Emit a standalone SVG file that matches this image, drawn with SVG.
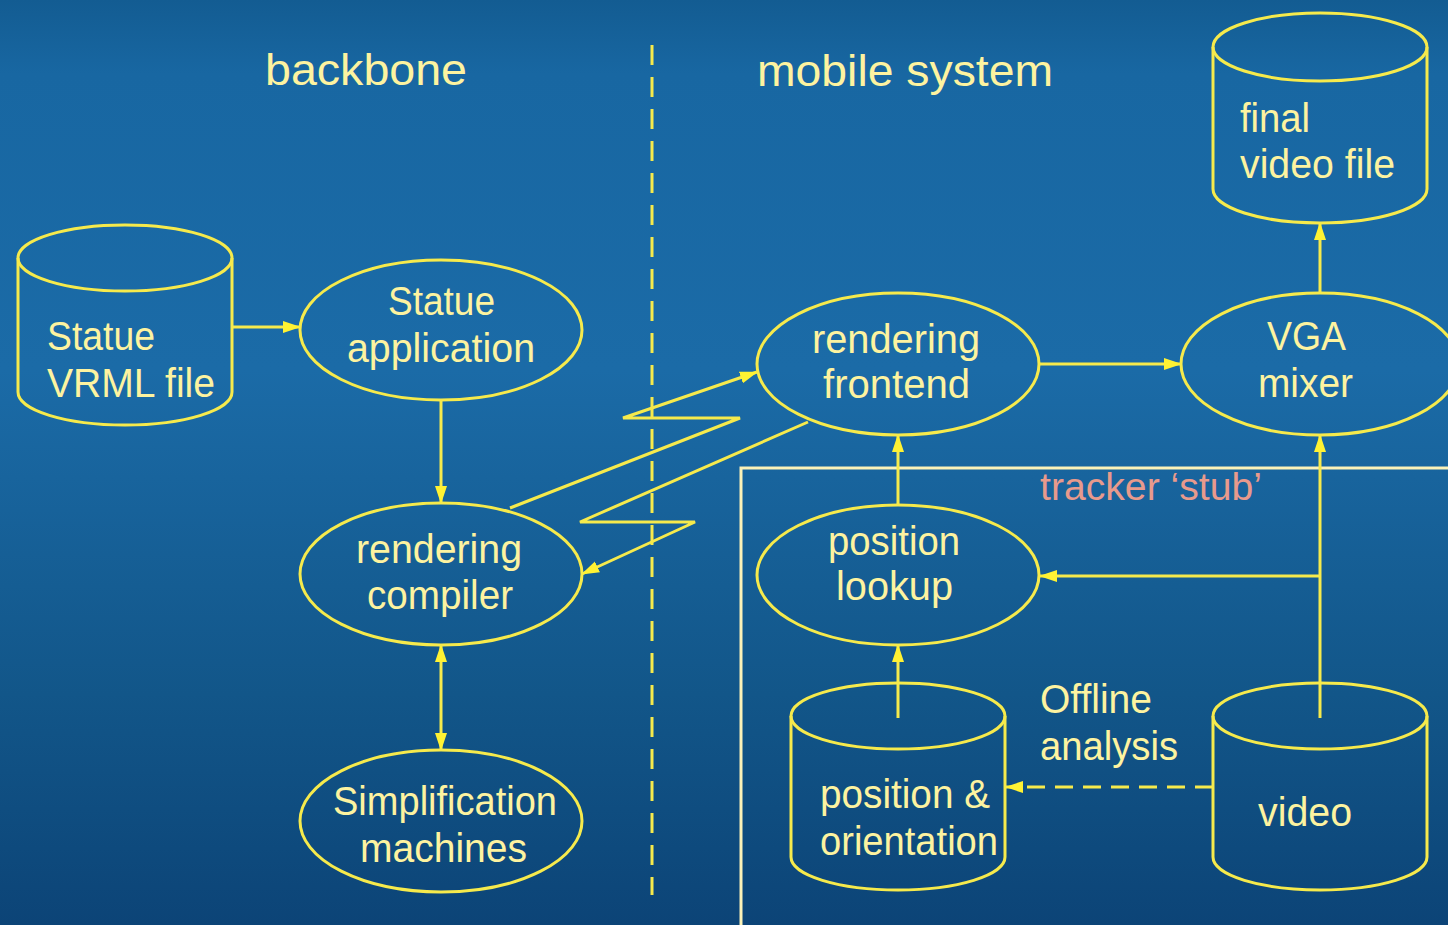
<svg xmlns="http://www.w3.org/2000/svg" width="1448" height="925" viewBox="0 0 1448 925">
<defs>
<linearGradient id="bg" x1="0" y1="0" x2="0" y2="1">
<stop offset="0" stop-color="#135c92"/>
<stop offset="0.08" stop-color="#1867a2"/>
<stop offset="0.4" stop-color="#1b6ba7"/>
<stop offset="0.75" stop-color="#125689"/>
<stop offset="1" stop-color="#0c4477"/>
</linearGradient>
<marker id="ah" viewBox="0 0 18 14" refX="17" refY="7" markerWidth="18" markerHeight="14" markerUnits="userSpaceOnUse" orient="auto-start-reverse">
<path d="M0,1 L18,7 L0,13 z" fill="#fff233"/>
</marker>
<style>
.s{fill:none;stroke:#f6ea4c;stroke-width:3}
.c{fill:none;stroke:#f6ea4c;stroke-width:3;marker-end:url(#ah)}
.t{font-family:"Liberation Sans",Arial,sans-serif;font-size:40px;fill:#fdf3a0}
.h{font-family:"Liberation Sans",Arial,sans-serif;font-size:44px;fill:#fdf3a0}
</style>
</defs>
<rect x="0" y="0" width="1448" height="925" fill="url(#bg)"/>

<g id="divider">
<line x1="652" y1="45" x2="652" y2="895" stroke="#f6ea4c" stroke-width="3" stroke-dasharray="20 12"/>
</g>
<g id="titles">
<text class="h" x="265" y="85" textLength="202" lengthAdjust="spacingAndGlyphs">backbone</text>
<text class="h" x="757" y="86" textLength="296" lengthAdjust="spacingAndGlyphs">mobile system</text>
</g>

<g id="tracker-stub">
<path d="M741,925 L741,468 L1448,468" fill="none" stroke="#fbf2b8" stroke-width="3"/>
<text x="1040" y="500" font-family="Liberation Sans,Arial,sans-serif" font-size="38" fill="#e89a8c" textLength="222" lengthAdjust="spacingAndGlyphs">tracker ‘stub’</text>
</g>

<g id="connectors">
<line class="c" x1="232" y1="327" x2="300" y2="327"/>
<line class="c" x1="441" y1="400" x2="441" y2="503"/>
<line class="c" x1="441" y1="645" x2="441" y2="750" marker-start="url(#ah)"/>
<polyline class="c" points="510,508 740,418 623,418 757,372"/>
<polyline class="c" points="808,422 580,522 695,522 582,574"/>
<line class="c" x1="1040" y1="364" x2="1181" y2="364"/>
<line class="c" x1="1320" y1="293" x2="1320" y2="223"/>
<line class="c" x1="898" y1="505" x2="898" y2="435"/>
<line class="c" x1="1320" y1="718" x2="1320" y2="435"/>
<line class="c" x1="1320" y1="576" x2="1040" y2="576"/>
<line class="c" x1="898" y1="718" x2="898" y2="645"/>
<line class="c" x1="1213" y1="787" x2="1006" y2="787" stroke-dasharray="18 10"/>
<text class="t" x="1040" y="713" textLength="112" lengthAdjust="spacingAndGlyphs">Offline</text>
<text class="t" x="1040" y="760" textLength="138" lengthAdjust="spacingAndGlyphs">analysis</text>
</g>

<g id="statue-vrml">
<ellipse class="s" cx="125" cy="258" rx="107" ry="33"/>
<path class="s" d="M18,258 L18,392 A107,33 0 0 0 232,392 L232,258"/>
<text class="t" x="47" y="350" textLength="108" lengthAdjust="spacingAndGlyphs">Statue</text>
<text class="t" x="47" y="397" textLength="168" lengthAdjust="spacingAndGlyphs">VRML file</text>
</g>

<g id="statue-application">
<ellipse class="s" cx="441" cy="330" rx="141" ry="70"/>
<text class="t" x="388" y="315" textLength="107" lengthAdjust="spacingAndGlyphs">Statue</text>
<text class="t" x="347" y="362" textLength="188" lengthAdjust="spacingAndGlyphs">application</text>
</g>

<g id="rendering-compiler">
<ellipse class="s" cx="441" cy="574" rx="141" ry="71"/>
<text class="t" x="356" y="563" textLength="166" lengthAdjust="spacingAndGlyphs">rendering</text>
<text class="t" x="367" y="609" textLength="146" lengthAdjust="spacingAndGlyphs">compiler</text>
</g>

<g id="simplification-machines">
<ellipse class="s" cx="441" cy="821" rx="141" ry="71"/>
<text class="t" x="333" y="815" textLength="224" lengthAdjust="spacingAndGlyphs">Simplification</text>
<text class="t" x="360" y="862" textLength="167" lengthAdjust="spacingAndGlyphs">machines</text>
</g>

<g id="rendering-frontend">
<ellipse class="s" cx="898" cy="364" rx="141" ry="71"/>
<text class="t" x="812" y="353" textLength="168" lengthAdjust="spacingAndGlyphs">rendering</text>
<text class="t" x="823" y="398" textLength="147" lengthAdjust="spacingAndGlyphs">frontend</text>
</g>

<g id="vga-mixer">
<ellipse class="s" cx="1320" cy="364" rx="139" ry="71"/>
<text class="t" x="1267" y="350" textLength="79" lengthAdjust="spacingAndGlyphs">VGA</text>
<text class="t" x="1258" y="397" textLength="95" lengthAdjust="spacingAndGlyphs">mixer</text>
</g>

<g id="final-video-file">
<ellipse class="s" cx="1320" cy="47" rx="107" ry="34"/>
<path class="s" d="M1213,47 L1213,189 A107,34 0 0 0 1427,189 L1427,47"/>
<text class="t" x="1240" y="132" textLength="70" lengthAdjust="spacingAndGlyphs">final</text>
<text class="t" x="1240" y="178" textLength="155" lengthAdjust="spacingAndGlyphs">video file</text>
</g>

<g id="position-lookup">
<ellipse class="s" cx="898" cy="575" rx="141" ry="70"/>
<text class="t" x="828" y="555" textLength="132" lengthAdjust="spacingAndGlyphs">position</text>
<text class="t" x="836" y="600" textLength="117" lengthAdjust="spacingAndGlyphs">lookup</text>
</g>

<g id="position-orientation">
<ellipse class="s" cx="898" cy="716" rx="107" ry="33"/>
<path class="s" d="M791,716 L791,857 A107,33 0 0 0 1005,857 L1005,716"/>
<text class="t" x="820" y="808" textLength="170" lengthAdjust="spacingAndGlyphs">position &amp;</text>
<text class="t" x="820" y="855" textLength="178" lengthAdjust="spacingAndGlyphs">orientation</text>
</g>

<g id="video">
<ellipse class="s" cx="1320" cy="716" rx="107" ry="33"/>
<path class="s" d="M1213,716 L1213,857 A107,33 0 0 0 1427,857 L1427,716"/>
<text class="t" x="1258" y="826" textLength="94" lengthAdjust="spacingAndGlyphs">video</text>
</g>
</svg>
